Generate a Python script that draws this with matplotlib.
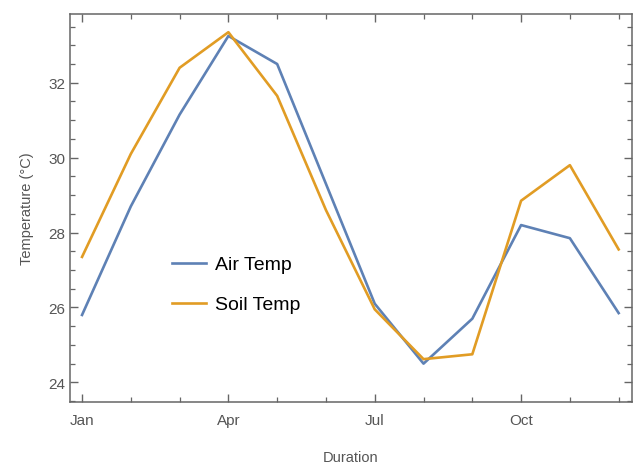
import matplotlib
matplotlib.use("Agg")
from matplotlib import pyplot as plt
from matplotlib.ticker import MultipleLocator
import numpy as np

months = ['Jan', 'Feb', 'Mar', 'Apr', 'May', 'Jun', 'Jul', 'Aug', 'Sep', 'Oct', 'Nov', 'Dec']
air_temp = [25.8, 28.7, 31.15, 33.25, 32.5, 29.3, 26.1, 24.5, 25.7, 28.2, 27.85, 25.85]
soil_temp = [27.35, 30.1, 32.4, 33.35, 31.65, 28.6, 25.95, 24.62, 24.75, 28.85, 29.8, 27.55]
tick_months = ['Jan', 'Apr', 'Jul', 'Oct']

plt.rcParams['font.family'] = ['Liberation Sans', 'DejaVu Sans']
grey = '#555555'

fig = plt.figure(figsize=(6.35, 4.64), dpi=100)
ax = fig.add_axes([0.110, 0.131, 0.885, 0.837])

x = np.arange(len(months))
ax.plot(x, air_temp, color='#5E81B5', linewidth=1.9, label='Air Temp')
ax.plot(x, soil_temp, color='#E19C24', linewidth=1.9, label='Soil Temp')

ax.set_xlim(-0.25, 11.27)
ax.set_ylim(23.47, 33.84)

ax.set_xticks([months.index(m) for m in tick_months])
ax.set_xticklabels(tick_months)
ax.xaxis.set_minor_locator(MultipleLocator(1))
ax.yaxis.set_major_locator(MultipleLocator(2))
ax.yaxis.set_minor_locator(MultipleLocator(0.5))

ax.tick_params(which='both', direction='in', top=True, right=True,
               color='#666666', labelcolor=grey, labelsize=11)
ax.tick_params(which='major', length=6, width=1)
ax.tick_params(which='minor', length=3.5, width=0.9)
ax.tick_params(axis='x', pad=8)
for s in ax.spines.values():
    s.set_color('#666666')
    s.set_linewidth(1.1)

ax.set_xlabel('Duration', color=grey, fontsize=10.5, labelpad=16)
ax.set_ylabel('Temperature (°C)', color=grey, fontsize=10.5, labelpad=10)

ax.legend(loc='upper left', bbox_to_anchor=(0.15, 0.422), frameon=False,
          fontsize=14, handlelength=1.75, labelspacing=1.15, handletextpad=0.5)

fig.savefig('out.png', dpi=100)
